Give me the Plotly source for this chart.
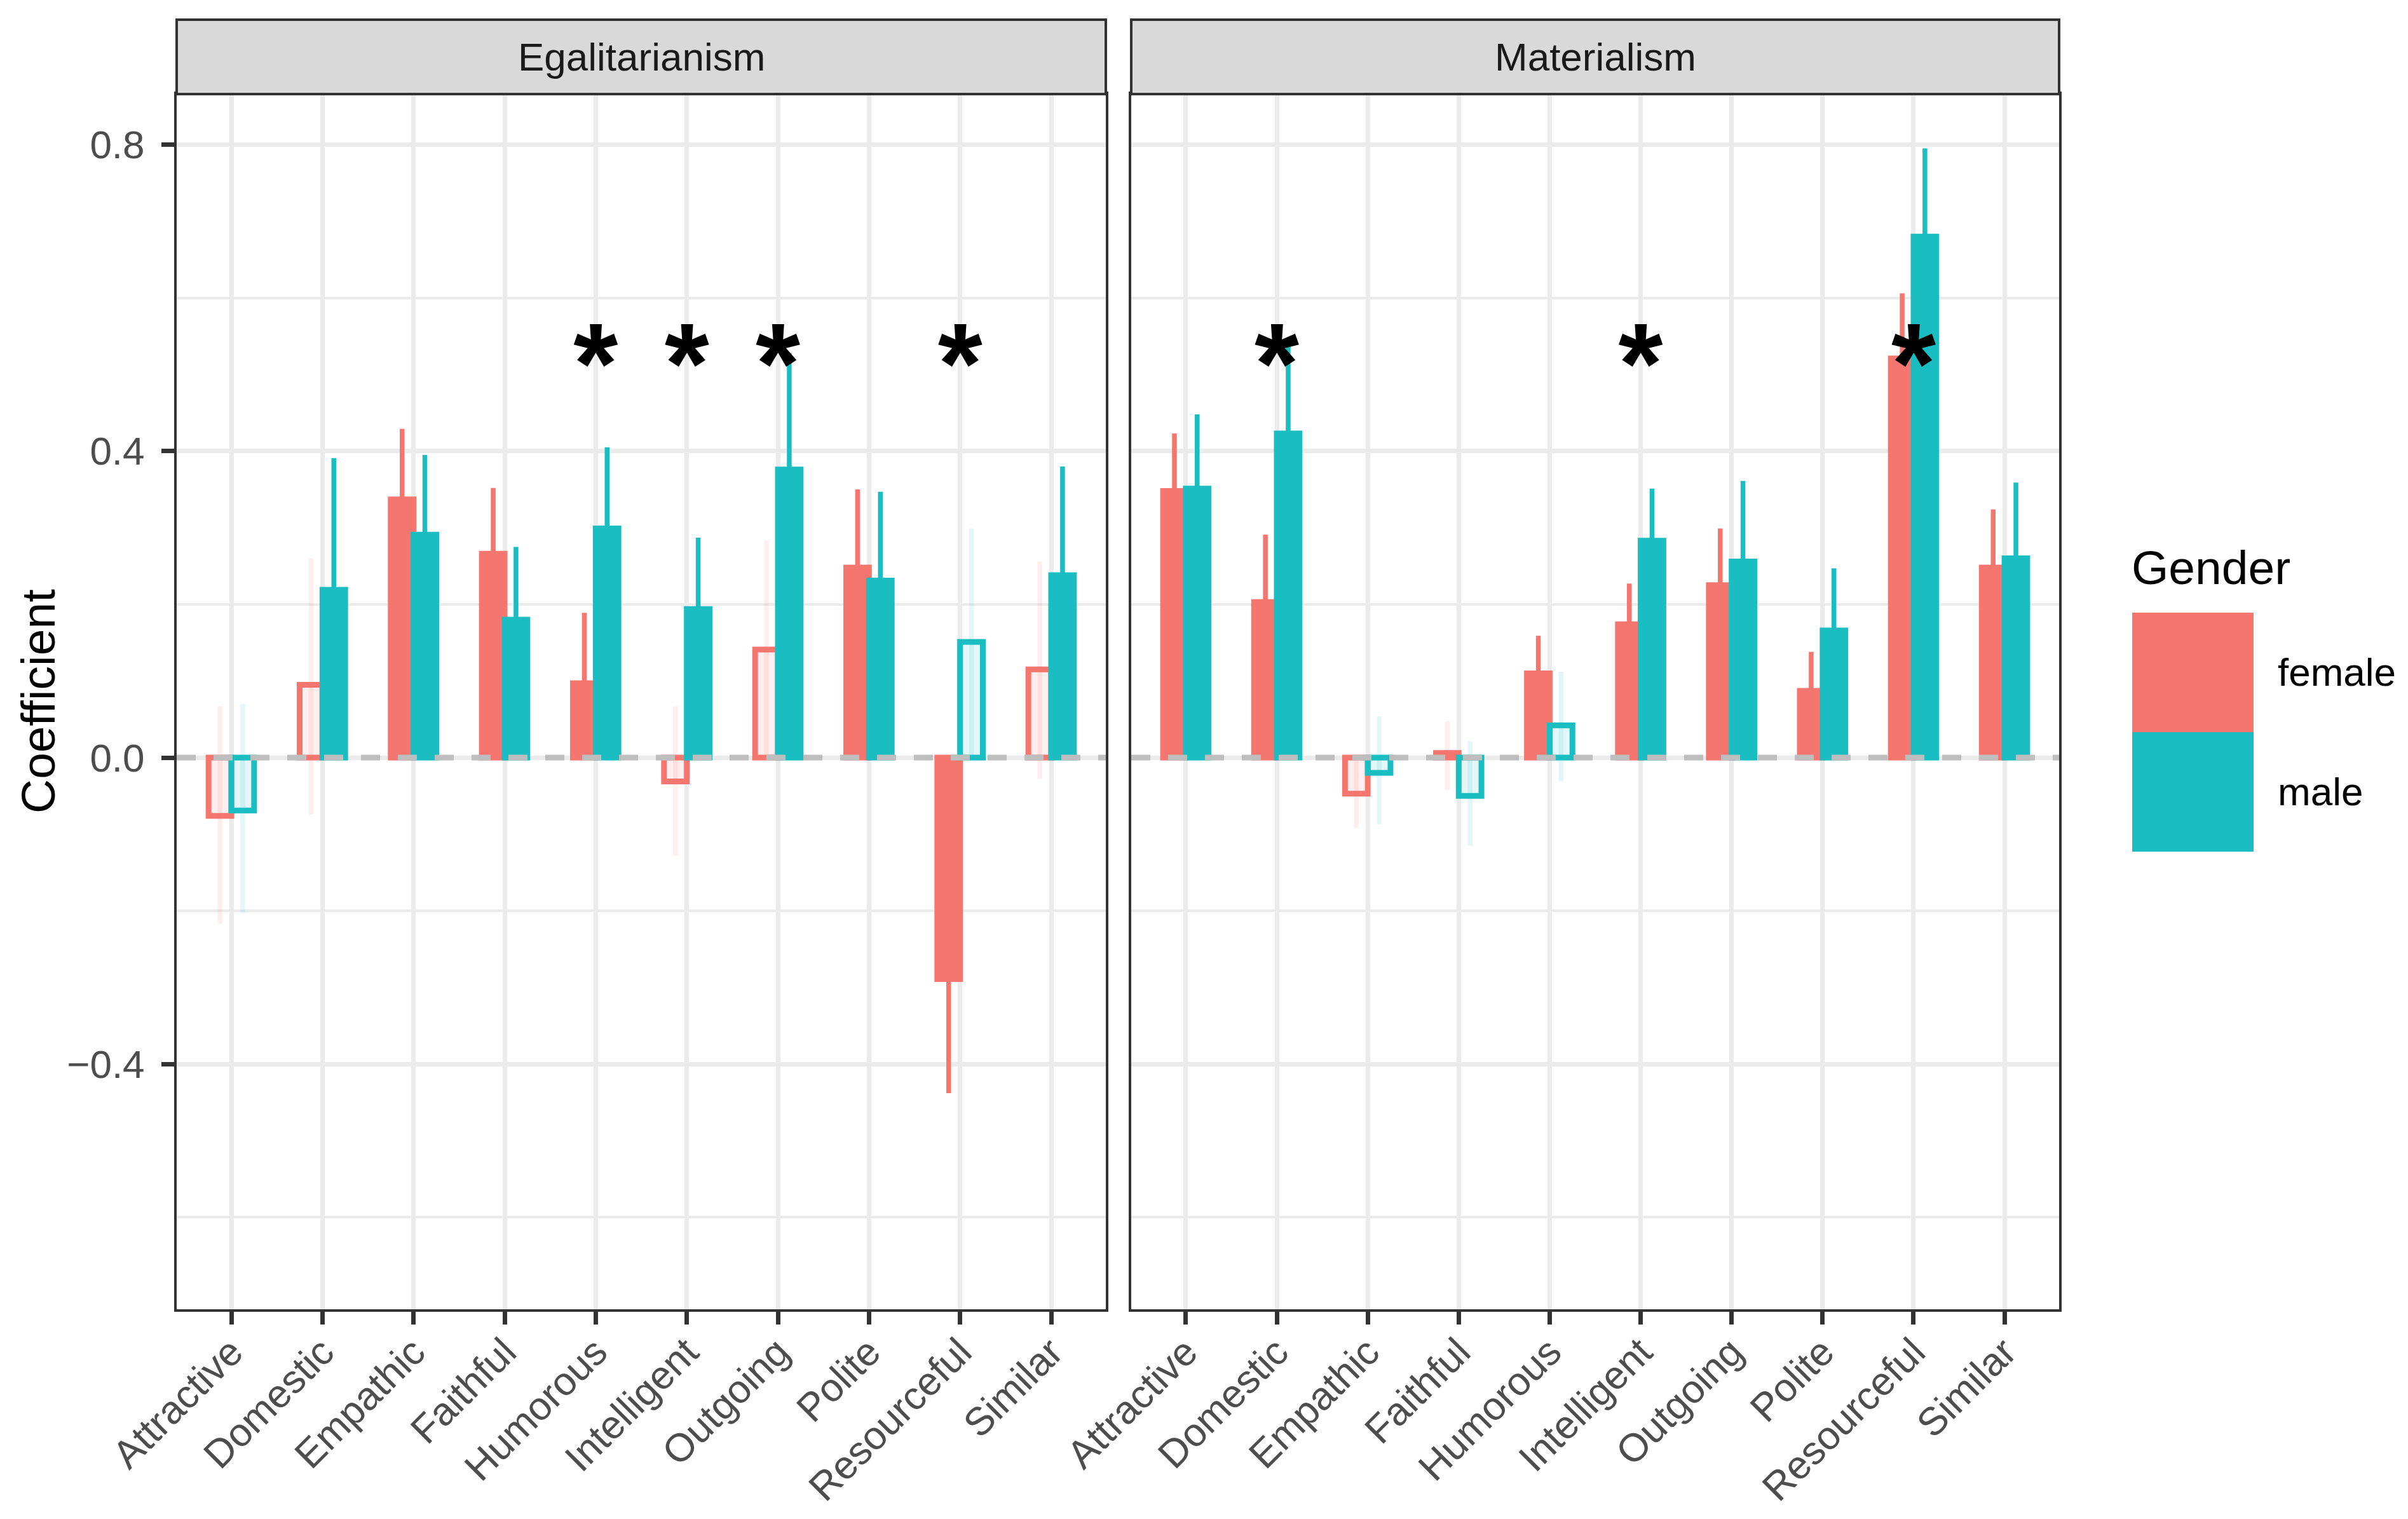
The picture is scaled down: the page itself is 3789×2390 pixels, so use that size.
import plotly.graph_objects as go

# ---------------- data ----------------
categories = ["Attractive", "Domestic", "Empathic", "Faithful", "Humorous",
              "Intelligent", "Outgoing", "Polite", "Resourceful", "Similar"]
panels = ["Egalitarianism", "Materialism"]
genders = ["female", "male"]

# Egalitarianism
egal_female_coef = [-0.076, 0.095, 0.337, 0.266, 0.097, -0.031, 0.141, 0.248, -0.289, 0.115]
egal_female_low = [-0.217, -0.074, 0.245, 0.180, 0.005, -0.128, -0.002, 0.146, -0.438, -0.028]
egal_female_high = [0.067, 0.260, 0.429, 0.352, 0.189, 0.067, 0.284, 0.350, -0.140, 0.256]

egal_male_coef = [-0.069, 0.219, 0.291, 0.180, 0.299, 0.194, 0.376, 0.231, 0.151, 0.238]
egal_male_low = [-0.203, 0.047, 0.187, 0.085, 0.193, 0.101, 0.224, 0.115, -0.003, 0.096]
egal_male_high = [0.070, 0.391, 0.395, 0.275, 0.405, 0.287, 0.528, 0.347, 0.299, 0.380]

# Materialism
mat_female_coef = [0.348, 0.203, -0.047, 0.006, 0.110, 0.174, 0.225, 0.087, 0.521, 0.248]
mat_female_low = [0.273, 0.115, -0.092, -0.042, 0.061, 0.121, 0.151, 0.036, 0.436, 0.172]
mat_female_high = [0.423, 0.291, 0.003, 0.047, 0.159, 0.227, 0.299, 0.138, 0.606, 0.324]

mat_male_coef = [0.351, 0.423, -0.020, -0.050, 0.042, 0.283, 0.256, 0.166, 0.680, 0.260]
mat_male_low = [0.254, 0.302, -0.087, -0.115, -0.031, 0.215, 0.151, 0.085, 0.565, 0.161]
mat_male_high = [0.448, 0.544, 0.054, 0.021, 0.112, 0.351, 0.361, 0.247, 0.795, 0.359]

# significant gender difference markers
egal_stars = ["Humorous", "Intelligent", "Outgoing", "Resourceful"]
mat_stars = ["Domestic", "Intelligent", "Resourceful"]
star_y = 0.5

data = {
    ("Egalitarianism", "female"): (egal_female_coef, egal_female_low, egal_female_high),
    ("Egalitarianism", "male"): (egal_male_coef, egal_male_low, egal_male_high),
    ("Materialism", "female"): (mat_female_coef, mat_female_low, mat_female_high),
    ("Materialism", "male"): (mat_male_coef, mat_male_low, mat_male_high),
}
stars = {"Egalitarianism": egal_stars, "Materialism": mat_stars}

# ---------------- style ----------------
OFF = 8  # default page margin of the html body
W, H = 3789 - OFF, 2390 - OFF
colors = {"female": (244, 118, 110), "male": (26, 189, 194)}
offsets = {"female": -0.25, "male": 0.0}
bar_w = 0.25
FONT = "Liberation Sans, Arial, sans-serif"


def rgba(c, a):
    return f"rgba({c[0]},{c[1]},{c[2]},{a})"


def px(v):
    return v / W


def py(v):
    return 1 - (v - OFF) / H


def pxx(v):
    return (v - OFF) / W


panel_x = [(278, 1740), (1780, 3240)]
panel_top, panel_bottom = 148, 2060
strip_top = 31
ydom = [py(panel_bottom), py(panel_top)]

fig = go.Figure()

for pi, panel in enumerate(panels):
    xa = "x" if pi == 0 else "x2"
    ya = "y" if pi == 0 else "y2"
    for g in genders:
        coef, low, high = data[(panel, g)]
        sig = [(lo > 0) or (hi < 0) for lo, hi in zip(low, high)]
        for is_sig in (False, True):
            ys = [c if s == is_sig else None for c, s in zip(coef, sig)]
            plus = [h - c if s == is_sig else None for c, h, s in zip(coef, high, sig)]
            minus = [c - l if s == is_sig else None for c, l, s in zip(coef, low, sig)]
            col = colors[g]
            fig.add_trace(go.Bar(
                x=categories, y=ys, xaxis=xa, yaxis=ya,
                offset=offsets[g], width=bar_w,
                marker=dict(color=rgba(col, 1.0) if is_sig else rgba(col, 0.12),
                            line=dict(color=rgba(col, 1.0), width=9)),
                error_y=dict(type="data", array=plus, arrayminus=minus,
                             symmetric=False, width=0, thickness=7.5,
                             color=rgba(col, 1.0) if is_sig else rgba(col, 0.12)),
                showlegend=False, hoverinfo="skip",
            ))
    st = stars[panel]
    fig.add_trace(go.Scatter(
        x=st, y=[star_y] * len(st), xaxis=xa, yaxis=ya, mode="text",
        text=["<b>*</b>"] * len(st), textposition="middle center",
        textfont=dict(size=180, color="black", family=FONT),
        showlegend=False, hoverinfo="skip",
    ))

axis_common = dict(
    showline=True, mirror=True, linecolor="#333333", linewidth=4,
    ticklen=20, tickwidth=7, tickcolor="#333333", automargin=False,
    showgrid=True, gridcolor="#EBEBEB", gridwidth=7, zeroline=False,
    tickfont=dict(size=62, color="#4D4D4D", family=FONT),
)
minor_grid = dict(tickvals=[-0.6, -0.2, 0.2, 0.6], showgrid=True,
                  gridcolor="#EBEBEB", gridwidth=3.5, ticks="")

fig.update_layout(
    template="none",
    width=W, height=H, margin=dict(l=0, r=0, t=0, b=0, autoexpand=False),
    paper_bgcolor="white", plot_bgcolor="white",
    barmode="overlay", showlegend=False,
    font=dict(family=FONT),
    xaxis=dict(domain=[pxx(panel_x[0][0]), pxx(panel_x[0][1])], anchor="y",
               type="category", categoryorder="array", categoryarray=categories,
               range=[-0.6, 9.6], tickangle=-45, ticks="outside",
               ticklabelstandoff=-18, **axis_common),
    xaxis2=dict(domain=[pxx(panel_x[1][0]), pxx(panel_x[1][1])], anchor="y2",
                type="category", categoryorder="array", categoryarray=categories,
                range=[-0.6, 9.6], tickangle=-45, ticks="outside",
                ticklabelstandoff=-18, **axis_common),
    yaxis=dict(domain=ydom, anchor="x", range=[-0.72, 0.866],
               tickvals=[-0.4, 0.0, 0.4, 0.8], tickformat=".1f",
               ticks="outside", ticklabelstandoff=14,
               minor=minor_grid, **axis_common),
    yaxis2=dict(domain=ydom, anchor="x2", range=[-0.72, 0.866],
                tickvals=[-0.4, 0.0, 0.4, 0.8], showticklabels=False, ticks="",
                minor=minor_grid, **axis_common),
)

shapes = []
annotations = []
for pi, panel in enumerate(panels):
    xa = "x" if pi == 0 else "x2"
    ya = "y" if pi == 0 else "y2"
    # dashed zero line
    shapes.append(dict(type="line", xref=f"{xa} domain", yref=ya, x0=0, x1=1, y0=0, y1=0,
                       line=dict(color="#BEBEBE", width=9, dash="30px,28px"), layer="above"))
    # facet strip
    x0, x1 = panel_x[pi]
    shapes.append(dict(type="rect", xref="paper", yref="paper",
                       x0=pxx(x0), x1=pxx(x1), y0=py(panel_top), y1=py(strip_top),
                       fillcolor="#D9D9D9", line=dict(color="#333333", width=4), layer="above"))
    annotations.append(dict(text=panel, xref="paper", yref="paper",
                            x=pxx((x0 + x1) / 2), y=py((panel_top + strip_top) / 2),
                            showarrow=False, xanchor="center", yanchor="middle",
                            font=dict(size=62, color="#1A1A1A", family=FONT)))

# y-axis title
annotations.append(dict(text="Coefficient", xref="paper", yref="paper",
                        x=pxx(60), y=(ydom[0] + ydom[1]) / 2, textangle=-90,
                        showarrow=False, xanchor="center", yanchor="middle",
                        font=dict(size=75, color="black", family=FONT)))

# legend (drawn manually to match key size)
annotations.append(dict(text="Gender", xref="paper", yref="paper",
                        x=pxx(3352), y=py(893), showarrow=False,
                        xanchor="left", yanchor="middle",
                        font=dict(size=75, color="black", family=FONT)))
key_rows = [("female", 964, 1152), ("male", 1152, 1340)]
for g, ky0, ky1 in key_rows:
    shapes.append(dict(type="rect", xref="paper", yref="paper",
                       x0=pxx(3355), x1=pxx(3546), y0=py(ky1), y1=py(ky0),
                       fillcolor=rgba(colors[g], 1.0), line=dict(width=0)))
    annotations.append(dict(text=g, xref="paper", yref="paper",
                            x=pxx(3582), y=py((ky0 + ky1) / 2 - 1), showarrow=False,
                            xanchor="left", yanchor="middle",
                            font=dict(size=62, color="black", family=FONT)))

fig.update_layout(shapes=shapes, annotations=annotations)
fig.write_html("out.html")
